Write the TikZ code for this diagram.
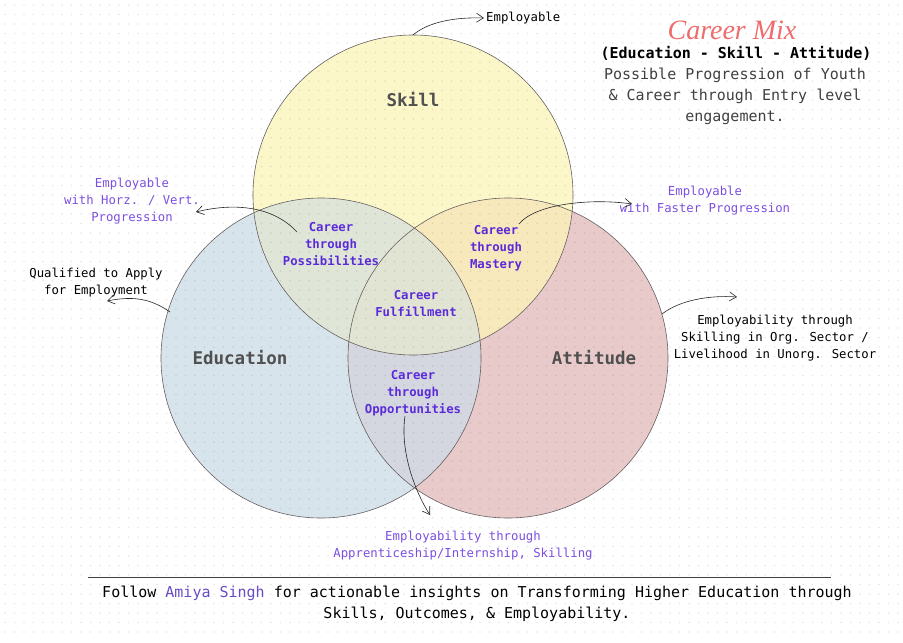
\documentclass[tikz,border=0pt]{standalone}
\usepackage{fontspec}
\setmainfont{DejaVu Sans Mono}
\newfontfamily\titlefont{Liberation Serif}
\usepackage{xcolor}
\usetikzlibrary{arrows.meta, positioning}
\definecolor{skillfill}{HTML}{FCF7C9}
\definecolor{edufill}{HTML}{D8E4EB}
\definecolor{attfill}{HTML}{E9CACA}
\definecolor{skilledu}{HTML}{DFE6D8}
\definecolor{eduatt}{HTML}{D4D7E0}
\definecolor{skillatt}{HTML}{F8E9BD}
\definecolor{allthree}{HTML}{E1E4D2}
\definecolor{ringline}{HTML}{666060}
\definecolor{setgray}{HTML}{505050}
\definecolor{inpurple}{HTML}{5B2BD9}
\definecolor{outpurple}{HTML}{7B4FE0}
\definecolor{salmon}{HTML}{EE6C6C}
\definecolor{amiya}{HTML}{6A4BC4}

\tikzset{
  ring/.style={draw=ringline, line width=0.6pt},
  setname/.style={font=\fontsize{17.5}{20}\selectfont\bfseries, text=setgray, inner sep=0pt},
  inlabel/.style={font=\fontsize{12.3}{17}\selectfont\bfseries, text=inpurple, align=center, inner sep=0pt},
  outlabel/.style={font=\fontsize{12.3}{17}\selectfont, text=outpurple, align=center, inner sep=0pt},
  note/.style={font=\fontsize{12.3}{17}\selectfont, text=black, align=center, inner sep=0pt},
  sketch/.style={-{Straight Barb[length=7pt,width=9pt]}, line width=0.6pt, black!85},
}

\begin{document}
\begin{tikzpicture}[x=1pt, y=-1pt]
        \useasboundingbox (0,0) rectangle (903,643);

        % the three sets
        \fill[edufill] (321,358) circle (160);  % Education
        \fill[attfill] (508,358) circle (160);  % Attitude
        \fill[skillfill] (413,195) circle (160); % Skill
        \begin{scope}
          \clip (321,358) circle (160);
          \fill[skilledu] (413,195) circle (160);
          \fill[eduatt] (508,358) circle (160);
        \end{scope}
        \begin{scope}
          \clip (413,195) circle (160);
          \fill[skillatt] (508,358) circle (160);
          \clip (321,358) circle (160);
          \fill[allthree] (508,358) circle (160);
        \end{scope}

        % dotted paper
        \foreach \x in {5,14.5,...,900} {
          \foreach \y in {5,14.5,...,640} {
            \fill[black, opacity=0.1] (\x,\y) circle (0.8pt);
          }
        }

        \draw[ring] (321,358) circle (160);
        \draw[ring] (508,358) circle (160);
        \draw[ring] (413,195) circle (160);

        \node[setname] (skill) at (413,100) {Skill};
        \node[setname] (edu) at (240,358) {Education};
        \node[setname] (att) at (594,358) {Attitude};

        % overlaps
        \node[inlabel] (poss) at (331,244) {Career\\through\\Possibilities};
        \node[inlabel] (mast) at (496,248) {Career\\through\\Mastery};
        \node[inlabel] (fulf) at (416,304) {Career\\Fulfillment};
        \node[inlabel] (opp) at (413,393) {Career\\through\\Opportunities};

        % outcomes
        \node[note, anchor=west] (emp) at (486,18) {Employable};
        \node[outlabel] (horz) at (132,201) {Employable\\with Horz. / Vert.\\Progression};
        \node[note] (qual) at (96,283) {Qualified to Apply\\for Employment};
        \node[outlabel] (fast) at (705,201) {Employable\\with Faster Progression};
        \node[note] (org) at (775,338) {Employability through\\Skilling in Org. Sector /\\Livelihood in Unorg. Sector};
        \node[outlabel] (appr) at (463,546) {Employability through\\Apprenticeship/Internship, Skilling};

        % arrows
        \coordinate (skilltop) at (413,35);
        \coordinate (possout) at (297,232);
        \coordinate (horztip) at (196,212);
        \coordinate (mastout) at (519,224);
        \coordinate (fasttip) at (632,204);
        \coordinate (eduedge) at (170,312);
        \coordinate (qualtip) at (107,301);
        \coordinate (attedge) at (662,314);
        \coordinate (orgtip) at (737,297);
        \coordinate (opptip) at (430,515);
        \draw[sketch] (skilltop) .. controls (428,22) and (455,17) .. ([xshift=-2pt]emp.west);
        \draw[sketch] (possout) .. controls (272,205) and (232,203) .. (horztip);
        \draw[sketch] (mastout) .. controls (535,204) and (590,198) .. (fasttip);
        \draw[sketch] (eduedge) .. controls (150,298) and (132,296) .. (qualtip);
        \draw[sketch] (attedge) .. controls (680,300) and (710,295) .. (orgtip);
        \draw[sketch] ([xshift=-8pt]opp.south) .. controls (400,450) and (414,490) .. (opptip);

        % title block
        \node[font=\titlefont\itshape\fontsize{28}{30}\selectfont, text=salmon, inner sep=0pt] (title) at (732,30) {Career Mix};
        \node[font=\fontsize{15}{21}\selectfont\bfseries, inner sep=0pt] (sub) at (736,53) {(Education - Skill - Attitude)};
        \node[font=\fontsize{15}{21}\selectfont, text=black!75, align=center, inner sep=0pt] (desc) at (735,96) {Possible Progression of Youth\\\& Career through Entry level\\engagement.};

        % footer
        \draw[black!75, line width=0.8pt] (88,577) -- (831,577);
        \node[font=\fontsize{15}{21}\selectfont, align=center, inner sep=0pt] (foot) at (477,604) {Follow \textcolor{amiya}{Amiya Singh} for actionable insights on Transforming Higher Education through\\Skills, Outcomes, \& Employability.};
\end{tikzpicture}
\end{document}
